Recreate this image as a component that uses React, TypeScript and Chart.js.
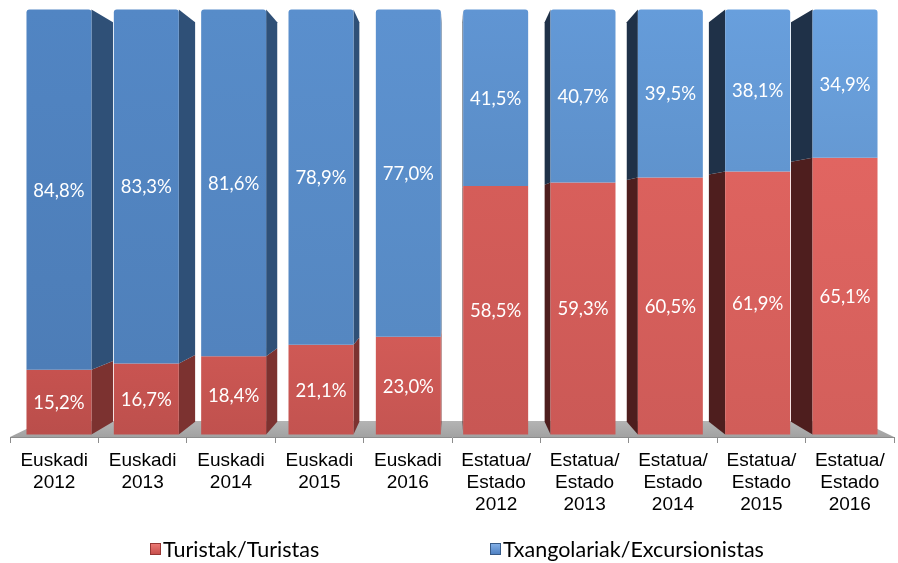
import React, { useEffect, useRef } from "react";
import { Chart, registerables } from "chart.js";

Chart.register(...registerables);

const categories: string[][] = [
  ["Euskadi", "2012"],
  ["Euskadi", "2013"],
  ["Euskadi", "2014"],
  ["Euskadi", "2015"],
  ["Euskadi", "2016"],
  ["Estatua/", "Estado", "2012"],
  ["Estatua/", "Estado", "2013"],
  ["Estatua/", "Estado", "2014"],
  ["Estatua/", "Estado", "2015"],
  ["Estatua/", "Estado", "2016"],
];
const turistak = [15.2, 16.7, 18.4, 21.1, 23.0, 58.5, 59.3, 60.5, 61.9, 65.1];
const txangolariak = [84.8, 83.3, 81.6, 78.9, 77.0, 41.5, 40.7, 39.5, 38.1, 34.9];
const seriesNames = ["Turistak/Turistas", "Txangolariak/Excursionistas"];

// colours: [left-end front, right-end front, right-side face, left-side face]
const redFrontA = [192, 80, 77];
const redFrontB = [218, 98, 94];
const blueFrontA = [79, 129, 189];
const blueFrontB = [104, 158, 218];
const redSideR = "rgb(124,50,48)";
const redSideL = "rgb(78,30,30)";
const blueSideR = "rgb(47,80,119)";
const blueSideL = "rgb(31,49,72)";

const S_FRONT = 0.988;
const S_BACK = 0.929;
const S_FLOOR = 0.925;

function mix(a: number[], b: number[], t: number, k = 1) {
  const c = a.map((v, i) => Math.round(Math.min(255, (v + (b[i] - v) * t) * k)));
  return `rgb(${c[0]},${c[1]},${c[2]})`;
}

function fmt(v: number) {
  return v.toFixed(1).replace(".", ",") + "%";
}

const threeD = {
  id: "threeD",
  beforeDatasetsDraw(chart: any) {
    const ctx: CanvasRenderingContext2D = chart.ctx;
    const a = chart.chartArea;
    const vx = (a.left + a.right) / 2;
    const vy = (a.top + a.bottom) / 2;
    const P = (x: number, y: number, s: number) => [vx + (x - vx) * s, vy + (y - vy) * s];
    const quad = (pts: number[][], fill: any) => {
      ctx.beginPath();
      ctx.moveTo(pts[0][0], pts[0][1]);
      for (let i = 1; i < pts.length; i++) ctx.lineTo(pts[i][0], pts[i][1]);
      ctx.closePath();
      ctx.fillStyle = fill;
      ctx.fill();
    };
    ctx.save();
    // floor
    const fg = ctx.createLinearGradient(0, P(0, a.bottom, S_FLOOR)[1], 0, a.bottom);
    fg.addColorStop(0, "#b4b4b4");
    fg.addColorStop(1, "#a2a2a2");
    quad(
      [P(a.left, a.bottom, 1), P(a.right, a.bottom, 1), P(a.right, a.bottom, S_FLOOR), P(a.left, a.bottom, S_FLOOR)],
      fg
    );

    const n = categories.length;
    const items: any[] = [];
    [0, 1].forEach((di) => {
      const meta = chart.getDatasetMeta(di);
      meta.data.forEach((el: any, i: number) => {
        const p = el.getProps(["x", "y", "base", "width"], true);
        items.push({
          di,
          i,
          left: p.x - p.width / 2,
          right: p.x + p.width / 2,
          top: Math.min(p.y, p.base),
          bottom: Math.max(p.y, p.base),
          cx: p.x,
          value: chart.data.datasets[di].data[i],
        });
      });
    });
    // side faces
    items.forEach((it) => {
      const rightSide = it.cx < vx;
      const ex = rightSide ? it.right : it.left;
      const col = it.di === 0 ? (rightSide ? redSideR : redSideL) : rightSide ? blueSideR : blueSideL;
      quad([P(ex, it.top, S_FRONT), P(ex, it.top, S_BACK), P(ex, it.bottom, S_BACK), P(ex, it.bottom, S_FRONT)], col);
    });
    // front faces
    items.forEach((it) => {
      const t = it.i / (n - 1);
      const [x0, y0] = P(it.left, it.top, S_FRONT);
      const [x1, y1] = P(it.right, it.bottom, S_FRONT);
      const base = it.di === 0 ? [redFrontA, redFrontB] : [blueFrontA, blueFrontB];
      const g = ctx.createLinearGradient(0, y0, 0, y1);
      g.addColorStop(0, mix(base[0], base[1], t, 1.03));
      g.addColorStop(1, mix(base[0], base[1], t, 0.97));
      ctx.fillStyle = g;
      ctx.beginPath();
      if (it.di === 1) {
        const r = 3;
        ctx.moveTo(x0, y1);
        ctx.lineTo(x0, y0 + r);
        ctx.quadraticCurveTo(x0, y0, x0 + r, y0);
        ctx.lineTo(x1 - r, y0);
        ctx.quadraticCurveTo(x1, y0, x1, y0 + r);
        ctx.lineTo(x1, y1);
        ctx.closePath();
      } else {
        ctx.rect(x0, y0, x1 - x0, y1 - y0);
      }
      ctx.fill();
    });
    // labels
    ctx.fillStyle = "#ffffff";
    ctx.font = "18.5px Lato";
    ctx.textAlign = "center";
    ctx.textBaseline = "middle";
    items.forEach((it) => {
      const [x0, y0] = P(it.left, it.top, S_FRONT);
      const [x1, y1] = P(it.right, it.bottom, S_FRONT);
      ctx.fillText(fmt(it.value), (x0 + x1) / 2, (y0 + y1) / 2 + 1);
    });
    ctx.restore();
    return false;
  },
  afterDraw(chart: any) {
    const ctx: CanvasRenderingContext2D = chart.ctx;
    const ds = chart.data.datasets;
    const pos = [150, 490];
    const y = 549;
    ctx.save();
    ctx.font = "21.5px Lato";
    ctx.textBaseline = "middle";
    ctx.textAlign = "left";
    ds.forEach((d: any, i: number) => {
      const x = pos[i];
      ctx.fillStyle = d.borderColor;
      ctx.fillRect(x, y - 6, 11, 12);
      const g = ctx.createLinearGradient(0, y - 5, 0, y + 5);
      g.addColorStop(0, d.hoverBackgroundColor);
      g.addColorStop(1, d.backgroundColor);
      ctx.fillStyle = g;
      ctx.fillRect(x + 1, y - 5, 9, 10);
      ctx.fillStyle = "#000000";
      ctx.fillText(d.label, x + 13, y + 1);
    });
    ctx.restore();
  },
};

export default function App() {
  const ref = useRef<HTMLCanvasElement | null>(null);
  useEffect(() => {
    if (!ref.current) return;
    const chart = new Chart(ref.current, {
      type: "bar",
      data: {
        labels: categories,
        datasets: [
          {
            label: seriesNames[0],
            data: turistak,
            backgroundColor: "rgb(200,80,77)",
            hoverBackgroundColor: "rgb(235,120,115)",
            borderColor: "rgb(150,55,52)",
          },
          {
            label: seriesNames[1],
            data: txangolariak,
            backgroundColor: "rgb(80,130,195)",
            hoverBackgroundColor: "rgb(130,175,230)",
            borderColor: "rgb(55,90,135)",
          },
        ],
      },
      options: {
        responsive: false,
        devicePixelRatio: 1,
        animation: false,
        layout: { padding: { top: 7, left: 10, right: 4, bottom: 0 } },
        datasets: { bar: { barPercentage: 0.744, categoryPercentage: 1 } },
        plugins: { legend: { display: false }, tooltip: { enabled: false } },
        scales: {
          x: {
            stacked: true,
            grid: {
              display: true,
              drawOnChartArea: false,
              drawTicks: true,
              tickLength: 6,
              color: "#8c8c8c",
              offset: true,
            },
            border: { display: true, color: "#8c8c8c" },
            ticks: {
              color: "#000000",
              padding: 7,
              maxRotation: 0,
              autoSkip: false,
              font: { family: "'Liberation Sans', Arial, sans-serif", size: 19, lineHeight: 1.15 },
            },
            afterFit: (scale: any) => {
              scale.height = 126;
            },
          },
          y: { stacked: true, display: false, min: 0, max: 100 },
        },
      },
      plugins: [threeD],
    });
    return () => chart.destroy();
  }, []);
  return (
    <div style={{ position: "fixed", left: 0, top: 0, width: 898, height: 563, background: "#fff" }}>
      <canvas ref={ref} width={898} height={563} style={{ display: "block" }} />
    </div>
  );
}
